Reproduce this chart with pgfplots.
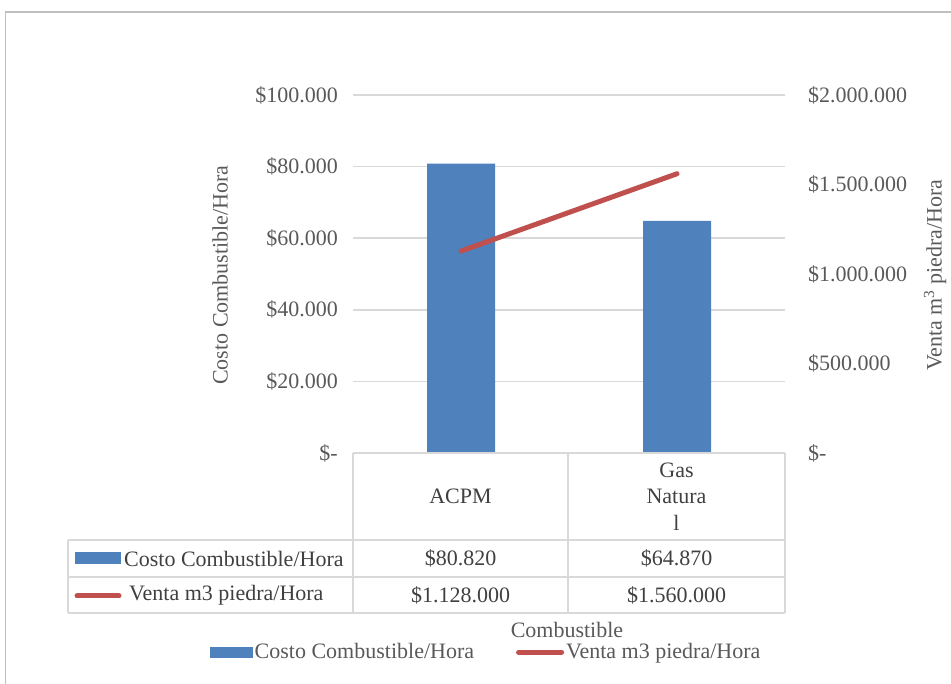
\documentclass[border=0pt]{standalone}
\usepackage{pgfplots}
\pgfplotsset{compat=1.18}
\usepackage{fontspec}
\setmainfont{Liberation Serif}
\definecolor{barblue}{HTML}{4F81BD}
\definecolor{linered}{HTML}{C0504D}
\definecolor{txt}{HTML}{595959}
\definecolor{tbl}{HTML}{404040}
\definecolor{gridc}{HTML}{D9D9D9}
\definecolor{framec}{HTML}{BFBFBF}
\newcommand{\fs}{\fontsize{22}{26.5}\selectfont}
\begin{document}
\begin{tikzpicture}[x=1pt,y=1pt]
\useasboundingbox (0pt,0pt) rectangle (951pt,684pt);
\draw[framec, line width=1.5pt] (5.5pt,-5pt) -- (5.5pt,672pt) -- (960pt,672pt);
\begin{axis}[
  at={(353pt,231pt)}, anchor=south west,
  scale only axis, width=432pt, height=358pt,
  xmin=0.5, xmax=2.5, ymin=0, ymax=100000,
  axis line style={draw=none}, major tick length=0pt,
  xtick=\empty, scaled y ticks=false,
  ytick={0,20000,40000,60000,80000,100000},
  yticklabels={\$-\hspace{10pt},\$20.000,\$40.000,\$60.000,\$80.000,\$100.000},
  yticklabel style={font=\fs, color=txt, anchor=east, inner sep=0pt, xshift=-15pt},
  ymajorgrids, grid style={gridc, line width=1.5pt},
  legend columns=2,
  legend style={draw=none, fill=none, font=\fs, text=txt, at={(axis description cs:0.308,-0.556)}, anchor=center,
    /tikz/every even column/.append style={column sep=40pt}},
]
\addplot[ybar, bar width=68pt, fill=barblue, draw=none,
  legend image code/.code={\fill[barblue] (0pt,-5.5pt) rectangle (43pt,5.5pt);}]
  coordinates {(1,80820) (2,64870)};
\addlegendentry{Costo Combustible/Hora}
\addlegendimage{linered, line width=5pt, line cap=round,
  legend image code/.code={\draw[linered, line width=5pt, line cap=round] (2pt,0pt) -- (45pt,0pt);}}
\addlegendentry{Venta m3 piedra/Hora}
\end{axis}
\begin{axis}[
  at={(353pt,231pt)}, anchor=south west,
  scale only axis, width=432pt, height=358pt,
  xmin=0.5, xmax=2.5, ymin=0, ymax=2000000,
  axis line style={draw=none}, major tick length=0pt,
  xtick=\empty, yticklabel pos=right, scaled y ticks=false,
  ytick={0,500000,1000000,1500000,2000000},
  yticklabels={\$-,\$500.000,\$1.000.000,\$1.500.000,\$2.000.000},
  yticklabel style={font=\fs, color=txt, anchor=west, inner sep=0pt, xshift=23pt},
]
\addplot[linered, line width=5pt, line cap=round] coordinates {(1,1128000) (2,1560000)};
\end{axis}
% axis titles
\node[rotate=90, font=\fs, text=txt] at (220pt,409pt) {Costo Combustible/Hora};
\node[rotate=90, font=\fs, text=txt] at (935pt,409pt) {Venta m\textsuperscript{3} piedra/Hora};
\node[font=\fs, text=txt] at (567pt,54pt) {Combustible};
% data table
\draw[gridc, line width=1.5pt] (353pt,231pt) -- (785pt,231pt);
\draw[gridc, line width=1.5pt] (68pt,144pt) -- (785pt,144pt);
\draw[gridc, line width=1.5pt] (68pt,107pt) -- (785pt,107pt);
\draw[gridc, line width=1.5pt] (68pt,71pt) -- (785pt,71pt);
\draw[gridc, line width=1.5pt] (68pt,144pt) -- (68pt,71pt);
\draw[gridc, line width=1.5pt] (353pt,231pt) -- (353pt,71pt);
\draw[gridc, line width=1.5pt] (568pt,231pt) -- (568pt,71pt);
\draw[gridc, line width=1.5pt] (785pt,231pt) -- (785pt,71pt);
\node[font=\fs, text=tbl] at (460.5pt,187.5pt) {ACPM};
\node[font=\fs, text=tbl, align=center] at (676.5pt,187.5pt) {Gas\\Natura\\l};
\fill[barblue] (75pt,120pt) rectangle (121pt,132pt);
\node[font=\fs, text=tbl, anchor=west, inner sep=0pt] at (124pt,125.5pt) {Costo Combustible/Hora};
\draw[linered, line width=5pt, line cap=round] (77pt,88pt) -- (119pt,88pt);
\node[font=\fs, text=tbl, anchor=west, inner sep=0pt] at (129pt,89pt) {Venta m3 piedra/Hora};
\node[font=\fs, text=tbl] at (460.5pt,125.5pt) {\$80.820};
\node[font=\fs, text=tbl] at (676.5pt,125.5pt) {\$64.870};
\node[font=\fs, text=tbl] at (460.5pt,89pt) {\$1.128.000};
\node[font=\fs, text=tbl] at (676.5pt,89pt) {\$1.560.000};
\end{tikzpicture}
\end{document}
